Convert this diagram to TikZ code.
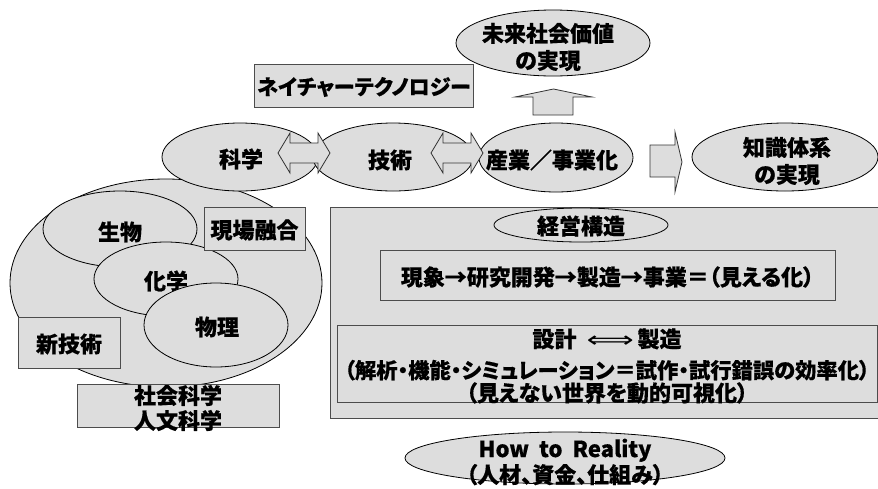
\documentclass[tikz,border=0pt]{standalone}
\usepackage{fontspec}
\setmainfont{Noto Sans CJK JP}[RawFeature=+palt, BoldFeatures={FakeBold=0.5}]
\newfontfamily\dvfont{DejaVu Sans}
\usetikzlibrary{shapes.geometric}
\definecolor{lg}{RGB}{221,221,221}
\newcommand\jpf{\fontsize{22}{27}\selectfont\bfseries}
\begin{document}
\begin{tikzpicture}[x=1pt,y=-1pt,
  ell/.style={ellipse, draw=black, line width=0.8pt, fill=lg, inner sep=0},
  box/.style={rectangle, draw=black!70, line width=1pt, fill=lg, inner sep=0},
  lbl/.style={font=\jpf, align=center, inner sep=0},
  blk/.style={draw=black!80, line width=0.8pt, fill=lg, line join=miter}]
\useasboundingbox (0,0) rectangle (878,488);
% left cluster
\node[ell, minimum width=312, minimum height=208] (bigell) at (166,283) {};
\node[ell, minimum width=154, minimum height=76] (seibutsu) at (120,229) {};
\node[lbl] (seibutsuT) at (120,232) {生物};
\node[ell, minimum width=144, minimum height=74] (kagaku2) at (166,279) {};
\node[lbl] (kagaku2T) at (166,281) {化学};
\node[ell, minimum width=144, minimum height=84] (butsuri) at (216,325) {};
\node[lbl] (butsuriT) at (217,327) {物理};
\node[box, minimum width=101, minimum height=43] (genba) at (254.5,228.5) {};
\node[lbl] (genbaT) at (254.5,230) {現場融合};
\node[box, minimum width=102, minimum height=51] (shingi) at (69,342.5) {};
\node[lbl] (shingiT) at (69,344) {新技術};
\node[box, minimum width=202, minimum height=43] (shakai) at (178,405.5) {};
\node[lbl] (shakaiT) at (178,408) {社会科学\\[-2pt]人文科学};
% top row
\node[ell, minimum width=156, minimum height=68] (kagaku) at (240,157) {};
\node[lbl] (kagakuT) at (241,159) {科学};
\node[ell, minimum width=160, minimum height=68] (gijutsu) at (393,157) {};
\node[lbl] (gijutsuT) at (390,160) {技術};
\node[ell, minimum width=154, minimum height=69] (sangyo) at (556,157.5) {};
\node[lbl] (sangyoT) at (552,160) {産業／事業化};
\draw[blk] (278,153) -- (290,133) -- (290,143) -- (318,143) -- (318,133) -- (330,153)
  -- (318,173) -- (318,163) -- (290,163) -- (290,173) -- cycle;
\draw[blk] (431,153) -- (443,133) -- (443,143) -- (471,143) -- (471,133) -- (483,153)
  -- (471,173) -- (471,163) -- (443,163) -- (443,173) -- cycle;
\node[ell, minimum width=186, minimum height=68] (chishiki) at (785,157) {};
\node[lbl] (chishikiT) at (787,161) {知識体系\\の実現};
\draw[blk] (650,145) -- (675,145) -- (675,132) -- (682,162) -- (675,192) -- (675,177)
  -- (650,177) -- cycle;
\node[box, minimum width=219, minimum height=43] (nature) at (363.5,85.5) {};
\node[lbl, font=\fontsize{21}{27}\selectfont\bfseries] (natureT) at (364,87) {ネイチャーテクノロジー};
\draw[blk] (533,115) -- (533,97) -- (515,97) -- (553.5,89) -- (592,97) -- (573,97)
  -- (573,115) -- cycle;
\node[ell, minimum width=194, minimum height=66] (mirai) at (553,43) {};
\node[lbl] (miraiT) at (548,47) {未来社会価値\\の実現};
% right block
\node[box, minimum width=548, minimum height=211] (keiei) at (604,312.5) {};
\node[ell, minimum width=174, minimum height=34] (keieiE) at (581,225) {};
\node[lbl] (keieiT) at (581,226) {経営構造};
\node[box, minimum width=455, minimum height=50] (gensho) at (607.5,275) {};
\node[lbl] (genshoT) at (607.5,277) {現象→研究開発→製造→事業＝（見える化）};
\node[box, minimum width=540, minimum height=77] (sekkei) at (607,363.5) {};
\node[lbl] (sekkeiT) at (607,366) {設計\ \ {\dvfont\mdseries\scalebox{1.5}[1]{⟺}}\,製造\\[4pt]{\fontsize{21.3}{27}\selectfont（解析・機能・シミュレーション＝試作・試行錯誤の効率化）}\\[-4pt]（見えない世界を動的可視化）};
\node[ell, minimum width=320, minimum height=52] (how) at (565,458) {};
\node[lbl] (howT) at (565,462) {How~~to~~Reality\\[-1pt]（人材、資金、仕組み）};
\end{tikzpicture}
\end{document}
